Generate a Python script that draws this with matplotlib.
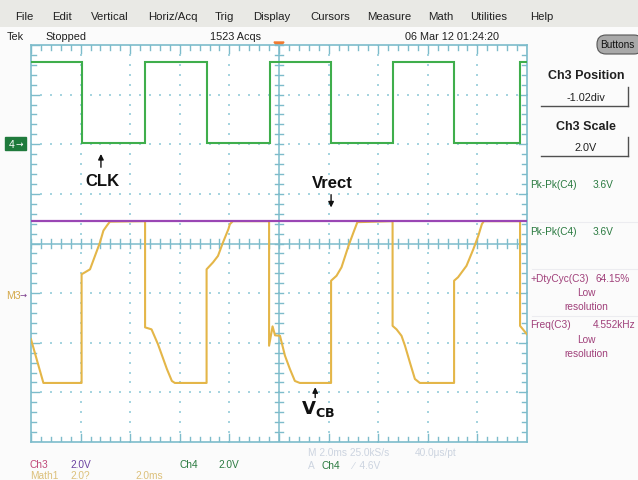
import matplotlib
matplotlib.use("Agg")
import matplotlib.pyplot as plt
import numpy as np
from matplotlib.patches import Rectangle, FancyBboxPatch, Polygon

# ---------------- data (in screen divisions) ----------------
clk_edges = [-3.98, -2.71, -1.45, -0.19, 1.05, 2.29, 3.53, 4.86]
clk_high = 3.65
clk_low = 2.02
clk_start_high = True

vrect_level = 0.45

vcb_x = [-5.0, -4.75, -3.98, -3.98, -3.91, -3.81, -3.71, -3.61, -3.54, -3.47, -3.41,
         -2.70, -2.70, -2.57, -2.44, -2.26, -2.16, -2.10, -1.46, -1.46, -1.33, -1.23,
         -1.13, -1.02, -0.99, -0.93, -0.20, -0.20, -0.13, -0.08, 0.02, 0.12, 0.22,
         0.32, 0.42, 1.05, 1.05, 1.16, 1.26, 1.40, 1.50, 1.58, 2.29, 2.29, 2.37,
         2.47, 2.54, 2.64, 2.74, 2.84, 3.53, 3.53, 3.61, 3.78, 3.92, 4.02, 4.09,
         4.13, 4.86, 4.86, 5.0]
vcb_y = [-1.93, -2.81, -2.81, -0.62, -0.58, -0.52, -0.25, 0.02, 0.26, 0.36, 0.44,
         0.45, -1.69, -1.73, -2.03, -2.53, -2.77, -2.81, -2.81, -0.52, -0.38, -0.25,
         0.02, 0.29, 0.39, 0.45, 0.45, -2.06, -1.67, -1.85, -1.86, -2.26, -2.53,
         -2.77, -2.81, -2.81, -0.75, -0.65, -0.48, -0.05, 0.22, 0.43, 0.45, -1.66, -1.73,
         -1.86, -2.06, -2.40, -2.73, -2.81, -2.81, -0.75, -0.68, -0.45, -0.11, 0.16, 0.39,
         0.45, 0.45, -1.66, -1.83]

menu_items = ["File", "Edit", "Vertical", "Horiz/Acq", "Trig", "Display",
              "Cursors", "Measure", "Math", "Utilities", "Help"]
menu_x = [15, 52, 91, 148, 215, 253, 310, 367, 428, 470, 530]

W, H = 638, 481
fig = plt.figure(figsize=(W / 100, H / 100), dpi=100, facecolor="#fbfbfb")

NARROW = ["Liberation Sans", "DejaVu Sans"]
SANS = ["Liberation Sans", "DejaVu Sans"]


def ft(x, y, s, **kw):
    kw.setdefault("va", "center")
    kw.setdefault("ha", "left")
    return fig.text(x / W, 1 - y / H, s, **kw)


# overlay axes in pixel coordinates
ov = fig.add_axes([0, 0, 1, 1], zorder=0)
ov.set_xlim(0, W)
ov.set_ylim(H, 0)
ov.axis("off")

# menu bar
ov.add_patch(Rectangle((0, 0), W, 28, color="#e9e9e5", lw=0))
for lab, x in zip(menu_items, menu_x):
    ft(x, 17, lab, fontsize=8.2, family=NARROW, color="#202020")

# status line
ft(7, 37, "Tek", fontsize=7.8, family=NARROW, color="#202020")
ft(45, 37, "Stopped", fontsize=7.8, family=NARROW, color="#202020")
ft(210, 37, "1523 Acqs", fontsize=7.8, family=NARROW, color="#202020")
ft(405, 37, "06 Mar 12 01:24:20", fontsize=7.8, family=NARROW, color="#202020")

# Buttons oval
ov.add_patch(FancyBboxPatch((597, 36), 46, 19, boxstyle="round,pad=0,rounding_size=9",
                            fc="#a9a9a9", ec="#555555", lw=0.8))
ft(617, 45.5, "Buttons", fontsize=7.2, family=NARROW, color="#111111", ha="center")

# right panel
ft(586, 76, "Ch3 Position", fontsize=9, weight="bold", family=SANS, ha="center", color="#202020")
ft(586, 98, "-1.02div", fontsize=7.8, family=NARROW, ha="center", color="#202020")
ov.plot([541, 628], [107, 107], color="#505050", lw=1.0)
ov.plot([628, 628], [88, 107], color="#505050", lw=1.0)
ft(586, 127, "Ch3 Scale", fontsize=9, weight="bold", family=SANS, ha="center", color="#202020")
ft(586, 148, "2.0V", fontsize=7.8, family=NARROW, ha="center", color="#202020")
ov.plot([541, 628], [157, 157], color="#505050", lw=1.0)
ov.plot([628, 628], [138, 157], color="#505050", lw=1.0)

meas_green = "#2a7a40"
meas_pink = "#a0407a"
fs_m = 7.3
ft(530, 185, "Pk-Pk(C4)", fontsize=fs_m, family=NARROW, color=meas_green)
ft(593, 185, "3.6V", fontsize=fs_m, family=NARROW, color=meas_green)
for yy in [223, 270, 317]:
    ov.plot([532, 638], [yy, yy], color="#ececf0", lw=0.8)
ft(530, 232, "Pk-Pk(C4)", fontsize=fs_m, family=NARROW, color=meas_green)
ft(593, 232, "3.6V", fontsize=fs_m, family=NARROW, color=meas_green)
ft(530, 279, "+DtyCyc(C3)", fontsize=fs_m, family=NARROW, color=meas_pink)
ft(596, 279, "64.15%", fontsize=fs_m, family=NARROW, color=meas_pink)
ft(586, 293, "Low", fontsize=fs_m, family=NARROW, color=meas_pink, ha="center")
ft(586, 307, "resolution", fontsize=fs_m, family=NARROW, color=meas_pink, ha="center")
ft(530, 325, "Freq(C3)", fontsize=fs_m, family=NARROW, color=meas_pink)
ft(635, 325, "4.552kHz", fontsize=fs_m, family=NARROW, color=meas_pink, ha="right")
ft(586, 340, "Low", fontsize=fs_m, family=NARROW, color=meas_pink, ha="center")
ft(586, 354, "resolution", fontsize=fs_m, family=NARROW, color=meas_pink, ha="center")

# left markers
ov.add_patch(Rectangle((5, 138), 21, 13, fc="#1f7a3c", ec="#1f7a3c"))
ft(9, 144.5, "4", fontsize=7.5, family=NARROW, color="white")
ft(16, 144.5, "\u2192", fontsize=6.5, family=["DejaVu Sans"], color="white")
ft(6, 296, "M3", fontsize=7.6, family=NARROW, color="#d4a848")
ft(20, 295.5, "\u2192", fontsize=6, family=["DejaVu Sans"], color="#7a3a8a")

# bottom info
fs_b = 7.3
ft(30, 465, "Ch3", fontsize=fs_b, family=NARROW, color="#c04878")
ft(70, 465, "2.0V", fontsize=fs_b, family=NARROW, color="#6a40a0")
ft(180, 465, "Ch4", fontsize=fs_b, family=NARROW, color=meas_green)
ft(218, 465, "2.0V", fontsize=fs_b, family=NARROW, color=meas_green)
ft(30, 476, "Math1", fontsize=fs_b, family=NARROW, color="#dcc07a")
ft(70, 476, "2.0?", fontsize=fs_b, family=NARROW, color="#dcc07a")
ft(135, 476, "2.0ms", fontsize=fs_b, family=NARROW, color="#dcc07a")
ft(308, 453, "M 2.0ms 25.0kS/s", fontsize=fs_b, family=NARROW, color="#ccd4e0")
ft(415, 453, "40.0\u03bcs/pt", fontsize=fs_b, family=NARROW, color="#ccd4e0")
ft(308, 466, "A", fontsize=fs_b, family=NARROW, color="#ccd4e0")
ft(322, 466, "Ch4", fontsize=fs_b, family=NARROW, color=meas_green)
ft(352, 466, "\u2215  4.6V", fontsize=fs_b, family=NARROW, color="#ccd4e0")

# ---------------- graticule axes ----------------
L, R, T, B = 31, 527, 46, 443
ax = fig.add_axes([L / W, 1 - B / H, (R - L) / W, (B - T) / H], zorder=2)
ax.set_xlim(-5, 5)
ax.set_ylim(-4, 4)
ax.set_facecolor("white")
for s in ax.spines.values():
    s.set_color("#7dbccb")
    s.set_linewidth(1.2)
ax.set_xticks([])
ax.set_yticks([])

gcol = "#7dbccb"
dcol = "#a6d4df"
fine = np.round(np.arange(-5, 5.001, 0.2), 2)
fine_y = np.round(np.arange(-4, 4.001, 0.2), 2)
# dotted grid
for xi in range(-4, 5):
    if xi == 0:
        continue
    ax.scatter(np.full(len(fine_y), xi), fine_y, s=1.2, marker="s", color=dcol, lw=0, zorder=1)
for yi in range(-3, 4):
    if yi == 0:
        continue
    ax.scatter(fine, np.full(len(fine), yi), s=1.2, marker="s", color=dcol, lw=0, zorder=1)
# center lines
ax.axvline(0, color=gcol, lw=1.1, zorder=1)
ax.axhline(0, color=gcol, lw=1.1, zorder=1)
tk = 0.09
for x in fine:
    ax.plot([x, x], [-tk, tk], color=gcol, lw=1.0, zorder=1)
    lt = 0.16 if abs(x - round(x)) < 1e-6 else 0.1
    ax.plot([x, x], [4, 4 - lt], color=gcol, lw=1.0, zorder=1)
    ax.plot([x, x], [-4, -4 + lt], color=gcol, lw=1.0, zorder=1)
for y in fine_y:
    ax.plot([-tk, tk], [y, y], color=gcol, lw=1.0, zorder=1)
    lt = 0.16 if abs(y - round(y)) < 1e-6 else 0.1
    ax.plot([-5, -5 + lt], [y, y], color=gcol, lw=1.0, zorder=1)
    ax.plot([5, 5 - lt], [y, y], color=gcol, lw=1.0, zorder=1)

# CLK trace (green)
cx = [-5.0]
cy = [clk_high if clk_start_high else clk_low]
level = cy[0]
for e in clk_edges:
    cx += [e, e]
    nxt = clk_low if level == clk_high else clk_high
    cy += [level, nxt]
    level = nxt
cx.append(5.0)
cy.append(level)
ax.plot(cx, cy, color="#3fae4c", lw=1.5, zorder=3, solid_joinstyle="miter")

# VCB trace (yellow)
ax.plot(vcb_x, vcb_y, color="#e4b648", lw=1.5, zorder=3)

# Vrect trace (purple)
ax.plot([-5, 5], [vrect_level, vrect_level], color="#9a46b4", lw=1.6, zorder=4)

# annotations
lab_font = dict(fontsize=12, weight="bold", family=SANS, color="#111111", ha="center", va="center")
ax.text(-3.55, 1.26, "CLK", **lab_font)
ax.annotate("", xy=(-3.59, 1.86), xytext=(-3.59, 1.48),
            arrowprops=dict(arrowstyle="-|>", color="#111111", lw=1.0, mutation_scale=8))
ax.text(1.07, 1.22, "Vrect", **lab_font)
ax.annotate("", xy=(1.05, 0.67), xytext=(1.05, 1.04),
            arrowprops=dict(arrowstyle="-|>", color="#111111", lw=1.0, mutation_scale=8))
ax.text(0.79, -3.32, r"$\mathbf{V}_{\mathbf{CB}}$", fontsize=13, color="#111111",
        ha="center", va="center")
ax.annotate("", xy=(0.73, -2.84), xytext=(0.73, -3.16),
            arrowprops=dict(arrowstyle="-|>", color="#111111", lw=1.0, mutation_scale=8))

# trigger markers
ov.add_patch(Polygon([[274, 43], [284, 43], [279, 50]], closed=True, color="#f07a30", zorder=5))
ov.annotate("", xy=(524, 44), xytext=(524, 52),
            arrowprops=dict(arrowstyle="-|>", color="#1f7a3c", lw=1.0, mutation_scale=6), zorder=5)

fig.savefig("out.png", dpi=100, facecolor=fig.get_facecolor())
